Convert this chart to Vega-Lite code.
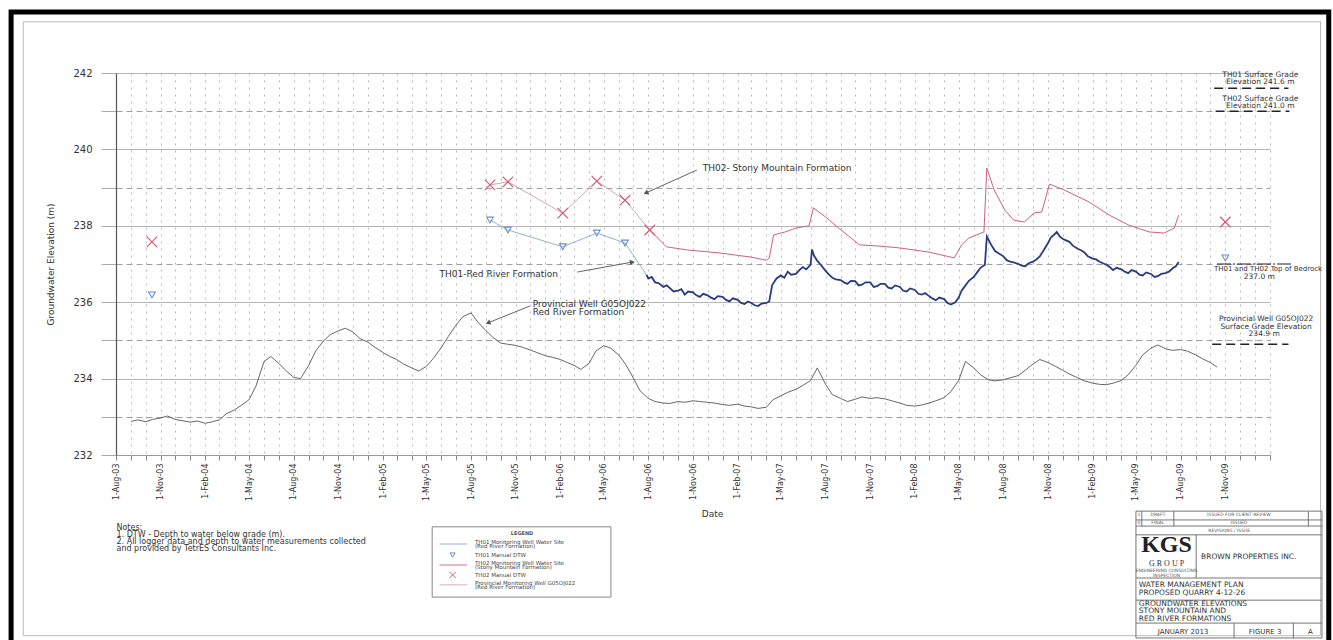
{
  "$schema": "https://vega.github.io/schema/vega-lite/v6.json",
  "width": 1154,
  "height": 382,
  "autosize": {"type": "none"},
  "padding": {"left": 116, "top": 73, "right": 63, "bottom": 185},
  "background": "white",
  "config": {"view": {"stroke": null}, "font": "DejaVu Sans"},
  "datasets": {
    "frame": [
      {"kind": "outer", "date": "2002-12-28", "date2": "2010-06-02", "elev": 243.6, "elev2": 226.79},
      {"kind": "inner", "date": "2003-01-22", "date2": "2010-05-16", "elev": 243.34, "elev2": 227.27}
    ],
    "prov": [
      {"date": "2003-09-01", "elev": 232.88}, {"date": "2003-09-15", "elev": 232.92}, {"date": "2003-10-01", "elev": 232.87}, {"date": "2003-10-15", "elev": 232.93},
      {"date": "2003-11-01", "elev": 232.97}, {"date": "2003-11-15", "elev": 233.02}, {"date": "2003-12-01", "elev": 232.93}, {"date": "2003-12-15", "elev": 232.9},
      {"date": "2004-01-01", "elev": 232.86}, {"date": "2004-01-15", "elev": 232.89}, {"date": "2004-02-01", "elev": 232.83}, {"date": "2004-02-15", "elev": 232.87},
      {"date": "2004-03-01", "elev": 232.92}, {"date": "2004-03-15", "elev": 233.08}, {"date": "2004-04-01", "elev": 233.18}, {"date": "2004-04-15", "elev": 233.3},
      {"date": "2004-05-01", "elev": 233.45}, {"date": "2004-05-15", "elev": 233.8}, {"date": "2004-06-01", "elev": 234.45}, {"date": "2004-06-15", "elev": 234.58},
      {"date": "2004-07-01", "elev": 234.4}, {"date": "2004-07-15", "elev": 234.22}, {"date": "2004-08-01", "elev": 234.03}, {"date": "2004-08-15", "elev": 234.0},
      {"date": "2004-09-01", "elev": 234.35}, {"date": "2004-09-15", "elev": 234.72}, {"date": "2004-10-01", "elev": 234.98}, {"date": "2004-10-15", "elev": 235.15},
      {"date": "2004-11-01", "elev": 235.25}, {"date": "2004-11-15", "elev": 235.32}, {"date": "2004-12-01", "elev": 235.22}, {"date": "2004-12-15", "elev": 235.05},
      {"date": "2005-01-01", "elev": 234.95}, {"date": "2005-01-15", "elev": 234.82}, {"date": "2005-02-01", "elev": 234.68}, {"date": "2005-02-15", "elev": 234.58},
      {"date": "2005-03-01", "elev": 234.5}, {"date": "2005-03-15", "elev": 234.38}, {"date": "2005-04-01", "elev": 234.28}, {"date": "2005-04-15", "elev": 234.2},
      {"date": "2005-05-01", "elev": 234.32}, {"date": "2005-05-15", "elev": 234.52}, {"date": "2005-06-01", "elev": 234.82}, {"date": "2005-06-15", "elev": 235.1},
      {"date": "2005-07-01", "elev": 235.4}, {"date": "2005-07-15", "elev": 235.62}, {"date": "2005-08-01", "elev": 235.72}, {"date": "2005-08-15", "elev": 235.48},
      {"date": "2005-09-01", "elev": 235.25}, {"date": "2005-09-15", "elev": 235.08}, {"date": "2005-10-01", "elev": 234.93}, {"date": "2005-10-15", "elev": 234.9},
      {"date": "2005-11-01", "elev": 234.87}, {"date": "2005-11-15", "elev": 234.82}, {"date": "2005-12-01", "elev": 234.75}, {"date": "2005-12-15", "elev": 234.68},
      {"date": "2006-01-01", "elev": 234.6}, {"date": "2006-01-15", "elev": 234.56}, {"date": "2006-02-01", "elev": 234.5}, {"date": "2006-02-15", "elev": 234.42},
      {"date": "2006-03-01", "elev": 234.35}, {"date": "2006-03-15", "elev": 234.24}, {"date": "2006-04-01", "elev": 234.4}, {"date": "2006-04-15", "elev": 234.72},
      {"date": "2006-05-01", "elev": 234.86}, {"date": "2006-05-15", "elev": 234.8}, {"date": "2006-06-01", "elev": 234.62}, {"date": "2006-06-15", "elev": 234.38},
      {"date": "2006-07-01", "elev": 234.02}, {"date": "2006-07-15", "elev": 233.68}, {"date": "2006-08-01", "elev": 233.48}, {"date": "2006-08-15", "elev": 233.4},
      {"date": "2006-09-01", "elev": 233.36}, {"date": "2006-09-15", "elev": 233.35}, {"date": "2006-10-01", "elev": 233.4}, {"date": "2006-10-15", "elev": 233.38},
      {"date": "2006-11-01", "elev": 233.42}, {"date": "2006-11-15", "elev": 233.4}, {"date": "2006-12-01", "elev": 233.38}, {"date": "2006-12-15", "elev": 233.36},
      {"date": "2007-01-01", "elev": 233.32}, {"date": "2007-01-15", "elev": 233.3}, {"date": "2007-02-01", "elev": 233.33}, {"date": "2007-02-15", "elev": 233.28},
      {"date": "2007-03-01", "elev": 233.26}, {"date": "2007-03-15", "elev": 233.22}, {"date": "2007-04-01", "elev": 233.25}, {"date": "2007-04-15", "elev": 233.45},
      {"date": "2007-05-01", "elev": 233.55}, {"date": "2007-05-15", "elev": 233.64}, {"date": "2007-06-01", "elev": 233.72}, {"date": "2007-06-15", "elev": 233.82},
      {"date": "2007-07-01", "elev": 233.95}, {"date": "2007-07-15", "elev": 234.28}, {"date": "2007-08-01", "elev": 233.85}, {"date": "2007-08-15", "elev": 233.58},
      {"date": "2007-09-01", "elev": 233.48}, {"date": "2007-09-15", "elev": 233.4}, {"date": "2007-10-01", "elev": 233.46}, {"date": "2007-10-15", "elev": 233.52},
      {"date": "2007-11-01", "elev": 233.48}, {"date": "2007-11-15", "elev": 233.5}, {"date": "2007-12-01", "elev": 233.47}, {"date": "2007-12-15", "elev": 233.42},
      {"date": "2008-01-01", "elev": 233.36}, {"date": "2008-01-15", "elev": 233.3}, {"date": "2008-02-01", "elev": 233.28}, {"date": "2008-02-15", "elev": 233.31},
      {"date": "2008-03-01", "elev": 233.36}, {"date": "2008-03-15", "elev": 233.42}, {"date": "2008-04-01", "elev": 233.5}, {"date": "2008-04-15", "elev": 233.66},
      {"date": "2008-05-01", "elev": 233.95}, {"date": "2008-05-15", "elev": 234.45}, {"date": "2008-06-01", "elev": 234.28}, {"date": "2008-06-15", "elev": 234.1},
      {"date": "2008-07-01", "elev": 233.97}, {"date": "2008-07-15", "elev": 233.94}, {"date": "2008-08-01", "elev": 233.97}, {"date": "2008-08-15", "elev": 234.02},
      {"date": "2008-09-01", "elev": 234.08}, {"date": "2008-09-15", "elev": 234.22}, {"date": "2008-10-01", "elev": 234.38}, {"date": "2008-10-15", "elev": 234.5},
      {"date": "2008-11-01", "elev": 234.42}, {"date": "2008-11-15", "elev": 234.33}, {"date": "2008-12-01", "elev": 234.22}, {"date": "2008-12-15", "elev": 234.12},
      {"date": "2009-01-01", "elev": 234.02}, {"date": "2009-01-15", "elev": 233.94}, {"date": "2009-02-01", "elev": 233.88}, {"date": "2009-02-15", "elev": 233.85},
      {"date": "2009-03-01", "elev": 233.84}, {"date": "2009-03-15", "elev": 233.88}, {"date": "2009-04-01", "elev": 233.95}, {"date": "2009-04-15", "elev": 234.1},
      {"date": "2009-05-01", "elev": 234.35}, {"date": "2009-05-15", "elev": 234.62}, {"date": "2009-06-01", "elev": 234.8}, {"date": "2009-06-15", "elev": 234.88},
      {"date": "2009-07-01", "elev": 234.78}, {"date": "2009-07-15", "elev": 234.74}, {"date": "2009-08-01", "elev": 234.76}, {"date": "2009-08-15", "elev": 234.72},
      {"date": "2009-09-01", "elev": 234.62}, {"date": "2009-09-15", "elev": 234.52}, {"date": "2009-10-01", "elev": 234.42}, {"date": "2009-10-15", "elev": 234.3}
    ],
    "th02": [
      {"date": "2006-08-04", "elev": 237.89}, {"date": "2006-09-07", "elev": 237.45}, {"date": "2006-10-19", "elev": 237.37}, {"date": "2006-12-25", "elev": 237.29},
      {"date": "2007-03-01", "elev": 237.18}, {"date": "2007-04-01", "elev": 237.1}, {"date": "2007-04-07", "elev": 237.16}, {"date": "2007-04-16", "elev": 237.76},
      {"date": "2007-05-10", "elev": 237.84}, {"date": "2007-06-01", "elev": 237.94}, {"date": "2007-06-28", "elev": 238.0}, {"date": "2007-07-07", "elev": 238.47},
      {"date": "2007-08-01", "elev": 238.23}, {"date": "2007-08-28", "elev": 237.94}, {"date": "2007-10-10", "elev": 237.5}, {"date": "2007-11-19", "elev": 237.47},
      {"date": "2008-01-01", "elev": 237.42}, {"date": "2008-03-01", "elev": 237.31}, {"date": "2008-04-22", "elev": 237.16}, {"date": "2008-05-07", "elev": 237.5},
      {"date": "2008-05-22", "elev": 237.68}, {"date": "2008-06-22", "elev": 237.84}, {"date": "2008-06-28", "elev": 239.51}, {"date": "2008-07-13", "elev": 238.94},
      {"date": "2008-08-04", "elev": 238.41}, {"date": "2008-08-22", "elev": 238.15}, {"date": "2008-09-13", "elev": 238.1}, {"date": "2008-10-04", "elev": 238.34},
      {"date": "2008-10-19", "elev": 238.36}, {"date": "2008-11-04", "elev": 239.09}, {"date": "2008-12-04", "elev": 238.94}, {"date": "2009-01-25", "elev": 238.62},
      {"date": "2009-03-07", "elev": 238.28}, {"date": "2009-04-16", "elev": 238.02}, {"date": "2009-05-28", "elev": 237.84}, {"date": "2009-06-28", "elev": 237.81},
      {"date": "2009-07-19", "elev": 237.94}, {"date": "2009-07-28", "elev": 238.28}
    ],
    "th01": [
      {"date": "2006-07-28", "elev": 236.72}, {"date": "2006-08-01", "elev": 236.62}, {"date": "2006-08-08", "elev": 236.66}, {"date": "2006-08-15", "elev": 236.52},
      {"date": "2006-08-22", "elev": 236.5}, {"date": "2006-09-01", "elev": 236.4}, {"date": "2006-09-08", "elev": 236.44}, {"date": "2006-09-15", "elev": 236.36},
      {"date": "2006-09-22", "elev": 236.28}, {"date": "2006-10-01", "elev": 236.3}, {"date": "2006-10-08", "elev": 236.34}, {"date": "2006-10-15", "elev": 236.2},
      {"date": "2006-10-22", "elev": 236.28}, {"date": "2006-11-01", "elev": 236.26}, {"date": "2006-11-08", "elev": 236.18}, {"date": "2006-11-15", "elev": 236.14},
      {"date": "2006-11-22", "elev": 236.22}, {"date": "2006-12-01", "elev": 236.18}, {"date": "2006-12-08", "elev": 236.12}, {"date": "2006-12-15", "elev": 236.08},
      {"date": "2006-12-22", "elev": 236.16}, {"date": "2007-01-01", "elev": 236.14}, {"date": "2007-01-08", "elev": 236.06}, {"date": "2007-01-15", "elev": 236.02},
      {"date": "2007-01-22", "elev": 236.1}, {"date": "2007-02-01", "elev": 236.06}, {"date": "2007-02-08", "elev": 235.98}, {"date": "2007-02-15", "elev": 235.95},
      {"date": "2007-02-22", "elev": 236.02}, {"date": "2007-03-01", "elev": 235.98}, {"date": "2007-03-08", "elev": 235.92}, {"date": "2007-03-15", "elev": 235.9},
      {"date": "2007-03-22", "elev": 235.96}, {"date": "2007-04-01", "elev": 235.98}, {"date": "2007-04-07", "elev": 236.02}, {"date": "2007-04-13", "elev": 236.45},
      {"date": "2007-04-22", "elev": 236.62}, {"date": "2007-05-01", "elev": 236.7}, {"date": "2007-05-08", "elev": 236.64}, {"date": "2007-05-15", "elev": 236.8},
      {"date": "2007-05-22", "elev": 236.72}, {"date": "2007-06-01", "elev": 236.74}, {"date": "2007-06-08", "elev": 236.84}, {"date": "2007-06-15", "elev": 236.92},
      {"date": "2007-06-22", "elev": 236.86}, {"date": "2007-07-01", "elev": 236.98}, {"date": "2007-07-04", "elev": 237.38}, {"date": "2007-07-08", "elev": 237.22},
      {"date": "2007-07-15", "elev": 237.08}, {"date": "2007-07-22", "elev": 236.98}, {"date": "2007-08-01", "elev": 236.82}, {"date": "2007-08-08", "elev": 236.72},
      {"date": "2007-08-15", "elev": 236.64}, {"date": "2007-08-22", "elev": 236.6}, {"date": "2007-09-01", "elev": 236.58}, {"date": "2007-09-08", "elev": 236.52},
      {"date": "2007-09-15", "elev": 236.48}, {"date": "2007-09-22", "elev": 236.56}, {"date": "2007-10-01", "elev": 236.55}, {"date": "2007-10-08", "elev": 236.44},
      {"date": "2007-10-15", "elev": 236.46}, {"date": "2007-10-22", "elev": 236.52}, {"date": "2007-11-01", "elev": 236.52}, {"date": "2007-11-08", "elev": 236.4},
      {"date": "2007-11-15", "elev": 236.42}, {"date": "2007-11-22", "elev": 236.48}, {"date": "2007-12-01", "elev": 236.48}, {"date": "2007-12-08", "elev": 236.38},
      {"date": "2007-12-15", "elev": 236.36}, {"date": "2007-12-22", "elev": 236.44}, {"date": "2008-01-01", "elev": 236.4}, {"date": "2008-01-08", "elev": 236.3},
      {"date": "2008-01-15", "elev": 236.28}, {"date": "2008-01-22", "elev": 236.36}, {"date": "2008-02-01", "elev": 236.32}, {"date": "2008-02-08", "elev": 236.22},
      {"date": "2008-02-15", "elev": 236.2}, {"date": "2008-02-22", "elev": 236.24}, {"date": "2008-03-01", "elev": 236.16}, {"date": "2008-03-08", "elev": 236.1},
      {"date": "2008-03-15", "elev": 236.05}, {"date": "2008-03-22", "elev": 236.12}, {"date": "2008-04-01", "elev": 236.08}, {"date": "2008-04-08", "elev": 235.98},
      {"date": "2008-04-15", "elev": 235.94}, {"date": "2008-04-24", "elev": 236.0}, {"date": "2008-05-01", "elev": 236.12}, {"date": "2008-05-07", "elev": 236.3},
      {"date": "2008-05-14", "elev": 236.42}, {"date": "2008-05-22", "elev": 236.56}, {"date": "2008-06-01", "elev": 236.66}, {"date": "2008-06-08", "elev": 236.78},
      {"date": "2008-06-15", "elev": 236.9}, {"date": "2008-06-24", "elev": 236.98}, {"date": "2008-06-28", "elev": 237.72}, {"date": "2008-07-07", "elev": 237.5},
      {"date": "2008-07-15", "elev": 237.34}, {"date": "2008-07-22", "elev": 237.28}, {"date": "2008-08-01", "elev": 237.2}, {"date": "2008-08-08", "elev": 237.1},
      {"date": "2008-08-15", "elev": 237.06}, {"date": "2008-08-22", "elev": 237.04}, {"date": "2008-09-01", "elev": 237.0}, {"date": "2008-09-08", "elev": 236.96},
      {"date": "2008-09-15", "elev": 236.94}, {"date": "2008-09-22", "elev": 237.02}, {"date": "2008-10-01", "elev": 237.06}, {"date": "2008-10-08", "elev": 237.12},
      {"date": "2008-10-15", "elev": 237.2}, {"date": "2008-10-24", "elev": 237.38}, {"date": "2008-11-01", "elev": 237.55}, {"date": "2008-11-07", "elev": 237.7},
      {"date": "2008-11-13", "elev": 237.76}, {"date": "2008-11-19", "elev": 237.84}, {"date": "2008-11-25", "elev": 237.72}, {"date": "2008-12-01", "elev": 237.66},
      {"date": "2008-12-08", "elev": 237.62}, {"date": "2008-12-15", "elev": 237.58}, {"date": "2008-12-22", "elev": 237.48}, {"date": "2009-01-01", "elev": 237.4},
      {"date": "2009-01-08", "elev": 237.36}, {"date": "2009-01-15", "elev": 237.3}, {"date": "2009-01-22", "elev": 237.2}, {"date": "2009-02-01", "elev": 237.14},
      {"date": "2009-02-08", "elev": 237.12}, {"date": "2009-02-15", "elev": 237.06}, {"date": "2009-02-22", "elev": 237.02}, {"date": "2009-03-01", "elev": 236.98},
      {"date": "2009-03-08", "elev": 236.92}, {"date": "2009-03-15", "elev": 236.84}, {"date": "2009-03-22", "elev": 236.9}, {"date": "2009-04-01", "elev": 236.86},
      {"date": "2009-04-08", "elev": 236.8}, {"date": "2009-04-15", "elev": 236.76}, {"date": "2009-04-22", "elev": 236.84}, {"date": "2009-05-01", "elev": 236.8},
      {"date": "2009-05-08", "elev": 236.72}, {"date": "2009-05-15", "elev": 236.7}, {"date": "2009-05-22", "elev": 236.78}, {"date": "2009-06-01", "elev": 236.74},
      {"date": "2009-06-08", "elev": 236.66}, {"date": "2009-06-15", "elev": 236.68}, {"date": "2009-06-22", "elev": 236.74}, {"date": "2009-07-01", "elev": 236.76},
      {"date": "2009-07-08", "elev": 236.8}, {"date": "2009-07-15", "elev": 236.88}, {"date": "2009-07-22", "elev": 236.94}, {"date": "2009-07-28", "elev": 237.05}
    ],
    "th01m": [
      {"date": "2003-10-14", "elev": 236.19, "seg": "a", "manual": true},
      {"date": "2005-09-09", "elev": 238.15, "seg": "b", "manual": true},
      {"date": "2005-10-16", "elev": 237.89, "seg": "b", "manual": true},
      {"date": "2006-02-06", "elev": 237.45, "seg": "b", "manual": true},
      {"date": "2006-04-17", "elev": 237.81, "seg": "b", "manual": true},
      {"date": "2006-06-14", "elev": 237.55, "seg": "b", "manual": true},
      {"date": "2006-07-28", "elev": 236.72, "seg": "b", "manual": false},
      {"date": "2009-11-01", "elev": 237.16, "seg": "c", "manual": true}
    ],
    "th02m": [
      {"date": "2003-10-14", "elev": 237.58, "seg": "a"},
      {"date": "2005-09-09", "elev": 239.07, "seg": "b"},
      {"date": "2005-10-16", "elev": 239.15, "seg": "b"},
      {"date": "2006-02-06", "elev": 238.33, "seg": "b"},
      {"date": "2006-04-17", "elev": 239.17, "seg": "b"},
      {"date": "2006-06-14", "elev": 238.67, "seg": "b"},
      {"date": "2006-08-04", "elev": 237.89, "seg": "b"},
      {"date": "2009-11-01", "elev": 238.1, "seg": "c"}
    ],
    "arrows": [
      {"id": "a1", "date": "2006-11-09", "elev": 239.46, "date2": "2006-07-27", "elev2": 238.86},
      {"id": "a2", "date": "2006-03-08", "elev": 236.79, "date2": "2006-06-29", "elev2": 237.05},
      {"id": "a3", "date": "2005-11-30", "elev": 235.9, "date2": "2005-09-05", "elev2": 235.46}
    ],
    "tips": [
      {"id": "a1", "date": "2006-07-27", "elev": 238.86},
      {"id": "a2", "date": "2006-06-29", "elev": 237.05},
      {"id": "a3", "date": "2005-09-05", "elev": 235.46}
    ],
    "levels": [
      {"date": "2009-10-09", "date2": "2010-03-11", "elev": 241.6, "kind": "dash"},
      {"date": "2009-10-12", "date2": "2010-03-13", "elev": 241.0, "kind": "dash"},
      {"date": "2009-10-15", "date2": "2010-03-17", "elev": 237.0, "kind": "solid"},
      {"date": "2009-10-05", "date2": "2010-03-11", "elev": 234.9, "kind": "dash"}
    ],
    "legbox": [
      {"date": "2005-05-13", "date2": "2006-05-16", "elev": 230.12, "elev2": 228.28}
    ],
    "leglines": [
      {"series": "TH01 logger", "date": "2005-05-28", "date2": "2005-07-24", "elev": 229.67},
      {"series": "TH02 logger", "date": "2005-05-28", "date2": "2005-07-24", "elev": 229.12},
      {"series": "G05OJ022", "date": "2005-05-28", "date2": "2005-07-24", "elev": 228.6}
    ],
    "legsym": [
      {"series": "TH01 manual", "date": "2005-06-24", "elev": 229.38},
      {"series": "TH02 manual", "date": "2005-06-24", "elev": 228.86}
    ],
    "tblines": [
      {"date": "2009-05-01", "date2": "2010-05-19", "elev": 230.53, "elev2": 230.53},
      {"date": "2009-05-01", "date2": "2010-05-19", "elev": 230.3, "elev2": 230.3},
      {"date": "2009-05-01", "date2": "2010-05-19", "elev": 230.14, "elev2": 230.14},
      {"date": "2009-05-01", "date2": "2010-05-19", "elev": 229.91, "elev2": 229.91},
      {"date": "2009-05-01", "date2": "2010-05-19", "elev": 228.78, "elev2": 228.78},
      {"date": "2009-05-01", "date2": "2010-05-19", "elev": 228.2, "elev2": 228.2},
      {"date": "2009-05-01", "date2": "2010-05-19", "elev": 227.6, "elev2": 227.6},
      {"date": "2009-05-01", "date2": "2010-05-19", "elev": 227.21, "elev2": 227.21},
      {"date": "2009-05-01", "date2": "2009-05-01", "elev": 230.53, "elev2": 227.21},
      {"date": "2010-05-19", "date2": "2010-05-19", "elev": 230.53, "elev2": 227.21},
      {"date": "2009-05-13", "date2": "2009-05-13", "elev": 230.53, "elev2": 230.14},
      {"date": "2009-07-18", "date2": "2009-07-18", "elev": 230.53, "elev2": 230.14},
      {"date": "2010-04-21", "date2": "2010-04-21", "elev": 230.53, "elev2": 230.14},
      {"date": "2009-09-02", "date2": "2009-09-02", "elev": 229.91, "elev2": 228.78},
      {"date": "2009-11-19", "date2": "2009-11-19", "elev": 227.6, "elev2": 227.21},
      {"date": "2010-03-21", "date2": "2010-03-21", "elev": 227.6, "elev2": 227.21}
    ],
    "texts": [
      {"grp": "ann", "date": "2006-11-21", "elev": 239.51, "text": "TH02- Stony Mountain Formation"},
      {"grp": "ann", "date": "2005-05-28", "elev": 236.74, "text": "TH01-Red River Formation"},
      {"grp": "ann", "date": "2005-12-06", "elev": 235.95, "text": "Provincial Well G05OJ022"},
      {"grp": "ann", "date": "2005-12-06", "elev": 235.74, "text": "Red River Formation"},
      {"grp": "side", "date": "2010-01-12", "elev": 241.96, "text": "TH01 Surface Grade"},
      {"grp": "side", "date": "2010-01-12", "elev": 241.76, "text": "Elevation 241.6 m"},
      {"grp": "side", "date": "2010-01-12", "elev": 241.32, "text": "TH02 Surface Grade"},
      {"grp": "side", "date": "2010-01-12", "elev": 241.13, "text": "Elevation 241.0 m"},
      {"grp": "side2", "date": "2010-01-28", "elev": 236.87, "text": "TH01 and TH02 Top of Bedrock"},
      {"grp": "side", "date": "2010-01-10", "elev": 236.66, "text": "237.0 m"},
      {"grp": "side", "date": "2010-01-24", "elev": 235.56, "text": "Provincial Well G05OJ022"},
      {"grp": "side", "date": "2010-01-24", "elev": 235.35, "text": "Surface Grade Elevation"},
      {"grp": "side", "date": "2010-01-20", "elev": 235.17, "text": "234.9 m"},
      {"grp": "note", "date": "2003-08-02", "elev": 230.09, "text": "Notes:"},
      {"grp": "note", "date": "2003-08-02", "elev": 229.91, "text": "1. DTW - Depth to water below grade (m)."},
      {"grp": "note", "date": "2003-08-02", "elev": 229.72, "text": "2. All logger data and depth to water measurements collected"},
      {"grp": "note", "date": "2003-08-02", "elev": 229.54, "text": "and provided by TetrES Consultants Inc."},
      {"grp": "legt", "date": "2005-11-14", "elev": 229.96, "text": "LEGEND"},
      {"grp": "leg", "date": "2005-08-09", "elev": 229.72, "text": "TH01 Monitoring Well Water Site"},
      {"grp": "leg", "date": "2005-08-09", "elev": 229.62, "text": "(Red River Formation)"},
      {"grp": "leg", "date": "2005-08-09", "elev": 229.38, "text": "TH01 Manual DTW"},
      {"grp": "leg", "date": "2005-08-09", "elev": 229.17, "text": "TH02 Monitoring Well Water Site"},
      {"grp": "leg", "date": "2005-08-09", "elev": 229.07, "text": "(Stony Mountain Formation)"},
      {"grp": "leg", "date": "2005-08-09", "elev": 228.86, "text": "TH02 Manual DTW"},
      {"grp": "leg", "date": "2005-08-09", "elev": 228.65, "text": "Provincial Monitoring Well G05OJ022"},
      {"grp": "leg", "date": "2005-08-09", "elev": 228.54, "text": "(Red River Formation)"},
      {"grp": "tbs", "date": "2009-05-07", "elev": 230.42, "text": "1"},
      {"grp": "tbs", "date": "2009-06-15", "elev": 230.42, "text": "DRAFT"},
      {"grp": "tbs", "date": "2009-11-29", "elev": 230.42, "text": "ISSUED FOR CLIENT REVIEW"},
      {"grp": "tbs", "date": "2009-05-07", "elev": 230.22, "text": "0"},
      {"grp": "tbs", "date": "2009-06-15", "elev": 230.22, "text": "FINAL"},
      {"grp": "tbs", "date": "2009-11-29", "elev": 230.22, "text": "ISSUED"},
      {"grp": "tbs", "date": "2009-11-09", "elev": 230.01, "text": "REVISIONS / ISSUE"},
      {"grp": "logo", "date": "2009-07-03", "elev": 229.46, "text": "KGS"},
      {"grp": "logo2", "date": "2009-07-03", "elev": 229.25, "text": "G R O U P"},
      {"grp": "tbs", "date": "2009-07-03", "elev": 228.96, "text": "ENGINEERING CONSULTING"},
      {"grp": "tbs", "date": "2009-07-03", "elev": 228.84, "text": "INSPECTION"},
      {"grp": "tb", "date": "2009-09-12", "elev": 229.33, "text": "BROWN PROPERTIES INC."},
      {"grp": "tb", "date": "2009-05-07", "elev": 228.6, "text": "WATER MANAGEMENT PLAN"},
      {"grp": "tb", "date": "2009-05-07", "elev": 228.39, "text": "PROPOSED QUARRY 4-12-26"},
      {"grp": "tb", "date": "2009-05-07", "elev": 228.1, "text": "GROUNDWATER ELEVATIONS"},
      {"grp": "tb", "date": "2009-05-07", "elev": 227.92, "text": "STONY MOUNTAIN AND"},
      {"grp": "tb", "date": "2009-05-07", "elev": 227.71, "text": "RED RIVER FORMATIONS"},
      {"grp": "tbc", "date": "2009-08-06", "elev": 227.37, "text": "JANUARY 2013"},
      {"grp": "tbc", "date": "2010-01-22", "elev": 227.37, "text": "FIGURE 3"},
      {"grp": "tbc", "date": "2010-04-25", "elev": 227.37, "text": "A"}
    ]
  },
  "encoding": {
    "x": {
      "field": "date",
      "type": "temporal",
      "scale": {"domain": [{"year": 2003, "month": 8, "date": 1}, {"year": 2010, "month": 2, "date": 1}]},
      "axis": {
        "title": "Date",
        "titleFont": "DejaVu Sans",
        "titleFontSize": 9,
        "titleFontWeight": "normal",
        "titleColor": "#333",
        "titleX": 596,
        "titleY": 58,
        "titleAlign": "center",
        "titleBaseline": "middle",
        "tickCount": {"interval": "month", "step": 1},
        "labelExpr": "(month(datum.value) % 3 == 1 && year(datum.value) * 12 + month(datum.value) < 2009 * 12 + 11) ? timeFormat(datum.value, '%-d-%b-%y') : ''",
        "labelAngle": 270,
        "labelFontSize": 8,
        "labelColor": "#333",
        "labelOverlap": false,
        "labelBound": false,
        "labelFlush": false,
        "labelPadding": 3,
        "tickSize": 5,
        "tickColor": "#888",
        "domainColor": "#999",
        "grid": true,
        "gridDash": [2, 5],
        "gridColor": "#a8a8a8",
        "gridWidth": 0.8
      }
    },
    "y": {
      "field": "elev",
      "type": "quantitative",
      "scale": {"domain": [232, 242], "nice": false, "zero": false},
      "axis": {
        "title": "Groundwater Elevation (m)",
        "titleFontSize": 9,
        "titleFontWeight": "normal",
        "titleColor": "#333",
        "titleX": -66,
        "titleY": 191,
        "titleAngle": 270,
        "titleAlign": "center",
        "titleBaseline": "middle",
        "values": [232, 233, 234, 235, 236, 237, 238, 239, 240, 241, 242],
        "labelExpr": "datum.value % 2 == 0 ? datum.label : ''",
        "labelFontSize": 10,
        "labelColor": "#333",
        "labelPadding": 9,
        "tickSize": 15,
        "tickColor": "#aaa",
        "domainColor": "#555",
        "domainWidth": 1.2,
        "grid": true,
        "gridColor": {"condition": {"test": "datum.value % 2 == 0", "value": "#b5b5b5"}, "value": "#a0a0a0"},
        "gridDash": {"condition": {"test": "datum.value % 2 == 1", "value": [6, 4]}, "value": []}
      }
    }
  },
  "layer": [
    {
      "data": {"name": "frame"},
      "transform": [{"filter": "datum.kind == 'outer'"}],
      "mark": {"type": "rect", "filled": false, "stroke": "#000", "strokeWidth": 5},
      "encoding": {"x2": {"field": "date2"}, "y2": {"field": "elev2"}}
    },
    {
      "data": {"name": "frame"},
      "transform": [{"filter": "datum.kind == 'inner'"}],
      "mark": {"type": "rect", "filled": false, "stroke": "#bbb", "strokeWidth": 1},
      "encoding": {"x2": {"field": "date2"}, "y2": {"field": "elev2"}}
    },
    {
      "data": {"name": "prov"},
      "mark": {"type": "line", "color": "#555", "strokeWidth": 0.9}
    },
    {
      "data": {"name": "th02"},
      "mark": {"type": "line", "color": "#d0607a", "strokeWidth": 1}
    },
    {
      "data": {"name": "th01"},
      "mark": {"type": "line", "color": "#2a3c7e", "strokeWidth": 1.8}
    },
    {
      "data": {"name": "th01m"},
      "mark": {"type": "line", "color": "#8aa4d6", "strokeWidth": 0.9},
      "encoding": {"detail": {"field": "seg"}}
    },
    {
      "data": {"name": "th01m"},
      "transform": [{"filter": "datum.manual"}],
      "mark": {"type": "point", "shape": "triangle-down", "filled": false, "color": "#6d8ec8", "size": 45, "strokeWidth": 1.1, "opacity": 1}
    },
    {
      "data": {"name": "th02m"},
      "mark": {"type": "line", "color": "#c8a0a8", "strokeWidth": 0.9},
      "encoding": {"detail": {"field": "seg"}}
    },
    {
      "data": {"name": "th02m"},
      "mark": {"type": "point", "shape": "M-1,-1L1,1M-1,1L1,-1", "filled": false, "color": "#d65c74", "size": 110, "strokeWidth": 1.2, "opacity": 1}
    },
    {
      "data": {"name": "arrows"},
      "mark": {"type": "rule", "color": "#666", "strokeWidth": 1},
      "encoding": {"x2": {"field": "date2"}, "y2": {"field": "elev2"}}
    },
    {
      "data": {"name": "tips"},
      "transform": [{"filter": "datum.id == 'a1'"}],
      "mark": {"type": "point", "shape": "triangle-right", "filled": true, "color": "#555", "size": 30, "angle": 155, "opacity": 1}
    },
    {
      "data": {"name": "tips"},
      "transform": [{"filter": "datum.id == 'a2'"}],
      "mark": {"type": "point", "shape": "triangle-right", "filled": true, "color": "#555", "size": 30, "angle": 350, "opacity": 1}
    },
    {
      "data": {"name": "tips"},
      "transform": [{"filter": "datum.id == 'a3'"}],
      "mark": {"type": "point", "shape": "triangle-right", "filled": true, "color": "#555", "size": 30, "angle": 158, "opacity": 1}
    },
    {
      "data": {"name": "levels"},
      "transform": [{"filter": "datum.kind == 'dash'"}],
      "mark": {"type": "rule", "color": "#222", "strokeWidth": 1.6, "strokeDash": [9, 5]},
      "encoding": {"x2": {"field": "date2"}}
    },
    {
      "data": {"name": "levels"},
      "transform": [{"filter": "datum.kind == 'solid'"}],
      "mark": {"type": "rule", "color": "#222", "strokeWidth": 1.2, "strokeDash": [14, 2, 2, 2]},
      "encoding": {"x2": {"field": "date2"}}
    },
    {
      "data": {"name": "legbox"},
      "mark": {"type": "rect", "filled": false, "stroke": "#888", "strokeWidth": 1},
      "encoding": {"x2": {"field": "date2"}, "y2": {"field": "elev2"}}
    },
    {
      "data": {"name": "leglines"},
      "mark": {"type": "rule", "strokeWidth": 0.9},
      "encoding": {
        "x2": {"field": "date2"},
        "color": {"field": "series", "type": "nominal", "scale": {"domain": ["TH01 logger", "TH02 logger", "G05OJ022"], "range": ["#8aa4d6", "#d0607a", "#e0a0b0"]}, "legend": null}
      }
    },
    {
      "data": {"name": "legsym"},
      "transform": [{"filter": "datum.series == 'TH01 manual'"}],
      "mark": {"type": "point", "shape": "triangle-down", "filled": false, "color": "#6d8ec8", "size": 25, "strokeWidth": 1, "opacity": 1}
    },
    {
      "data": {"name": "legsym"},
      "transform": [{"filter": "datum.series == 'TH02 manual'"}],
      "mark": {"type": "point", "shape": "M-1,-1L1,1M-1,1L1,-1", "filled": false, "color": "#d65c74", "size": 40, "strokeWidth": 1, "opacity": 1}
    },
    {
      "data": {"name": "tblines"},
      "mark": {"type": "rule", "color": "#666", "strokeWidth": 0.9},
      "encoding": {"x2": {"field": "date2"}, "y2": {"field": "elev2"}}
    },
    {
      "data": {"name": "texts"},
      "transform": [{"filter": "datum.grp == 'ann'"}],
      "mark": {"type": "text", "align": "left", "baseline": "middle", "fontSize": 9, "color": "#333"},
      "encoding": {"text": {"field": "text"}}
    },
    {
      "data": {"name": "texts"},
      "transform": [{"filter": "datum.grp == 'side'"}],
      "mark": {"type": "text", "align": "center", "baseline": "middle", "fontSize": 7.5, "color": "#333"},
      "encoding": {"text": {"field": "text"}}
    },
    {
      "data": {"name": "texts"},
      "transform": [{"filter": "datum.grp == 'side2'"}],
      "mark": {"type": "text", "align": "center", "baseline": "middle", "fontSize": 7, "color": "#333"},
      "encoding": {"text": {"field": "text"}}
    },
    {
      "data": {"name": "texts"},
      "transform": [{"filter": "datum.grp == 'note'"}],
      "mark": {"type": "text", "align": "left", "baseline": "middle", "fontSize": 8, "color": "#333"},
      "encoding": {"text": {"field": "text"}}
    },
    {
      "data": {"name": "texts"},
      "transform": [{"filter": "datum.grp == 'leg'"}],
      "mark": {"type": "text", "align": "left", "baseline": "middle", "fontSize": 5.5, "color": "#444"},
      "encoding": {"text": {"field": "text"}}
    },
    {
      "data": {"name": "texts"},
      "transform": [{"filter": "datum.grp == 'legt'"}],
      "mark": {"type": "text", "align": "center", "baseline": "middle", "fontSize": 5, "fontWeight": "bold", "color": "#555"},
      "encoding": {"text": {"field": "text"}}
    },
    {
      "data": {"name": "texts"},
      "transform": [{"filter": "datum.grp == 'tbs'"}],
      "mark": {"type": "text", "align": "center", "baseline": "middle", "fontSize": 4.5, "color": "#555"},
      "encoding": {"text": {"field": "text"}}
    },
    {
      "data": {"name": "texts"},
      "transform": [{"filter": "datum.grp == 'logo'"}],
      "mark": {"type": "text", "align": "center", "baseline": "alphabetic", "font": "Liberation Serif", "fontWeight": "bold", "fontSize": 24, "color": "#222"},
      "encoding": {"text": {"field": "text"}}
    },
    {
      "data": {"name": "texts"},
      "transform": [{"filter": "datum.grp == 'logo2'"}],
      "mark": {"type": "text", "align": "center", "baseline": "top", "font": "Liberation Serif", "fontSize": 8, "color": "#333"},
      "encoding": {"text": {"field": "text"}}
    },
    {
      "data": {"name": "texts"},
      "transform": [{"filter": "datum.grp == 'tb'"}],
      "mark": {"type": "text", "align": "left", "baseline": "middle", "fontSize": 7.5, "color": "#333"},
      "encoding": {"text": {"field": "text"}}
    },
    {
      "data": {"name": "texts"},
      "transform": [{"filter": "datum.grp == 'tbc'"}],
      "mark": {"type": "text", "align": "center", "baseline": "middle", "fontSize": 7, "color": "#333"},
      "encoding": {"text": {"field": "text"}}
    }
  ]
}
